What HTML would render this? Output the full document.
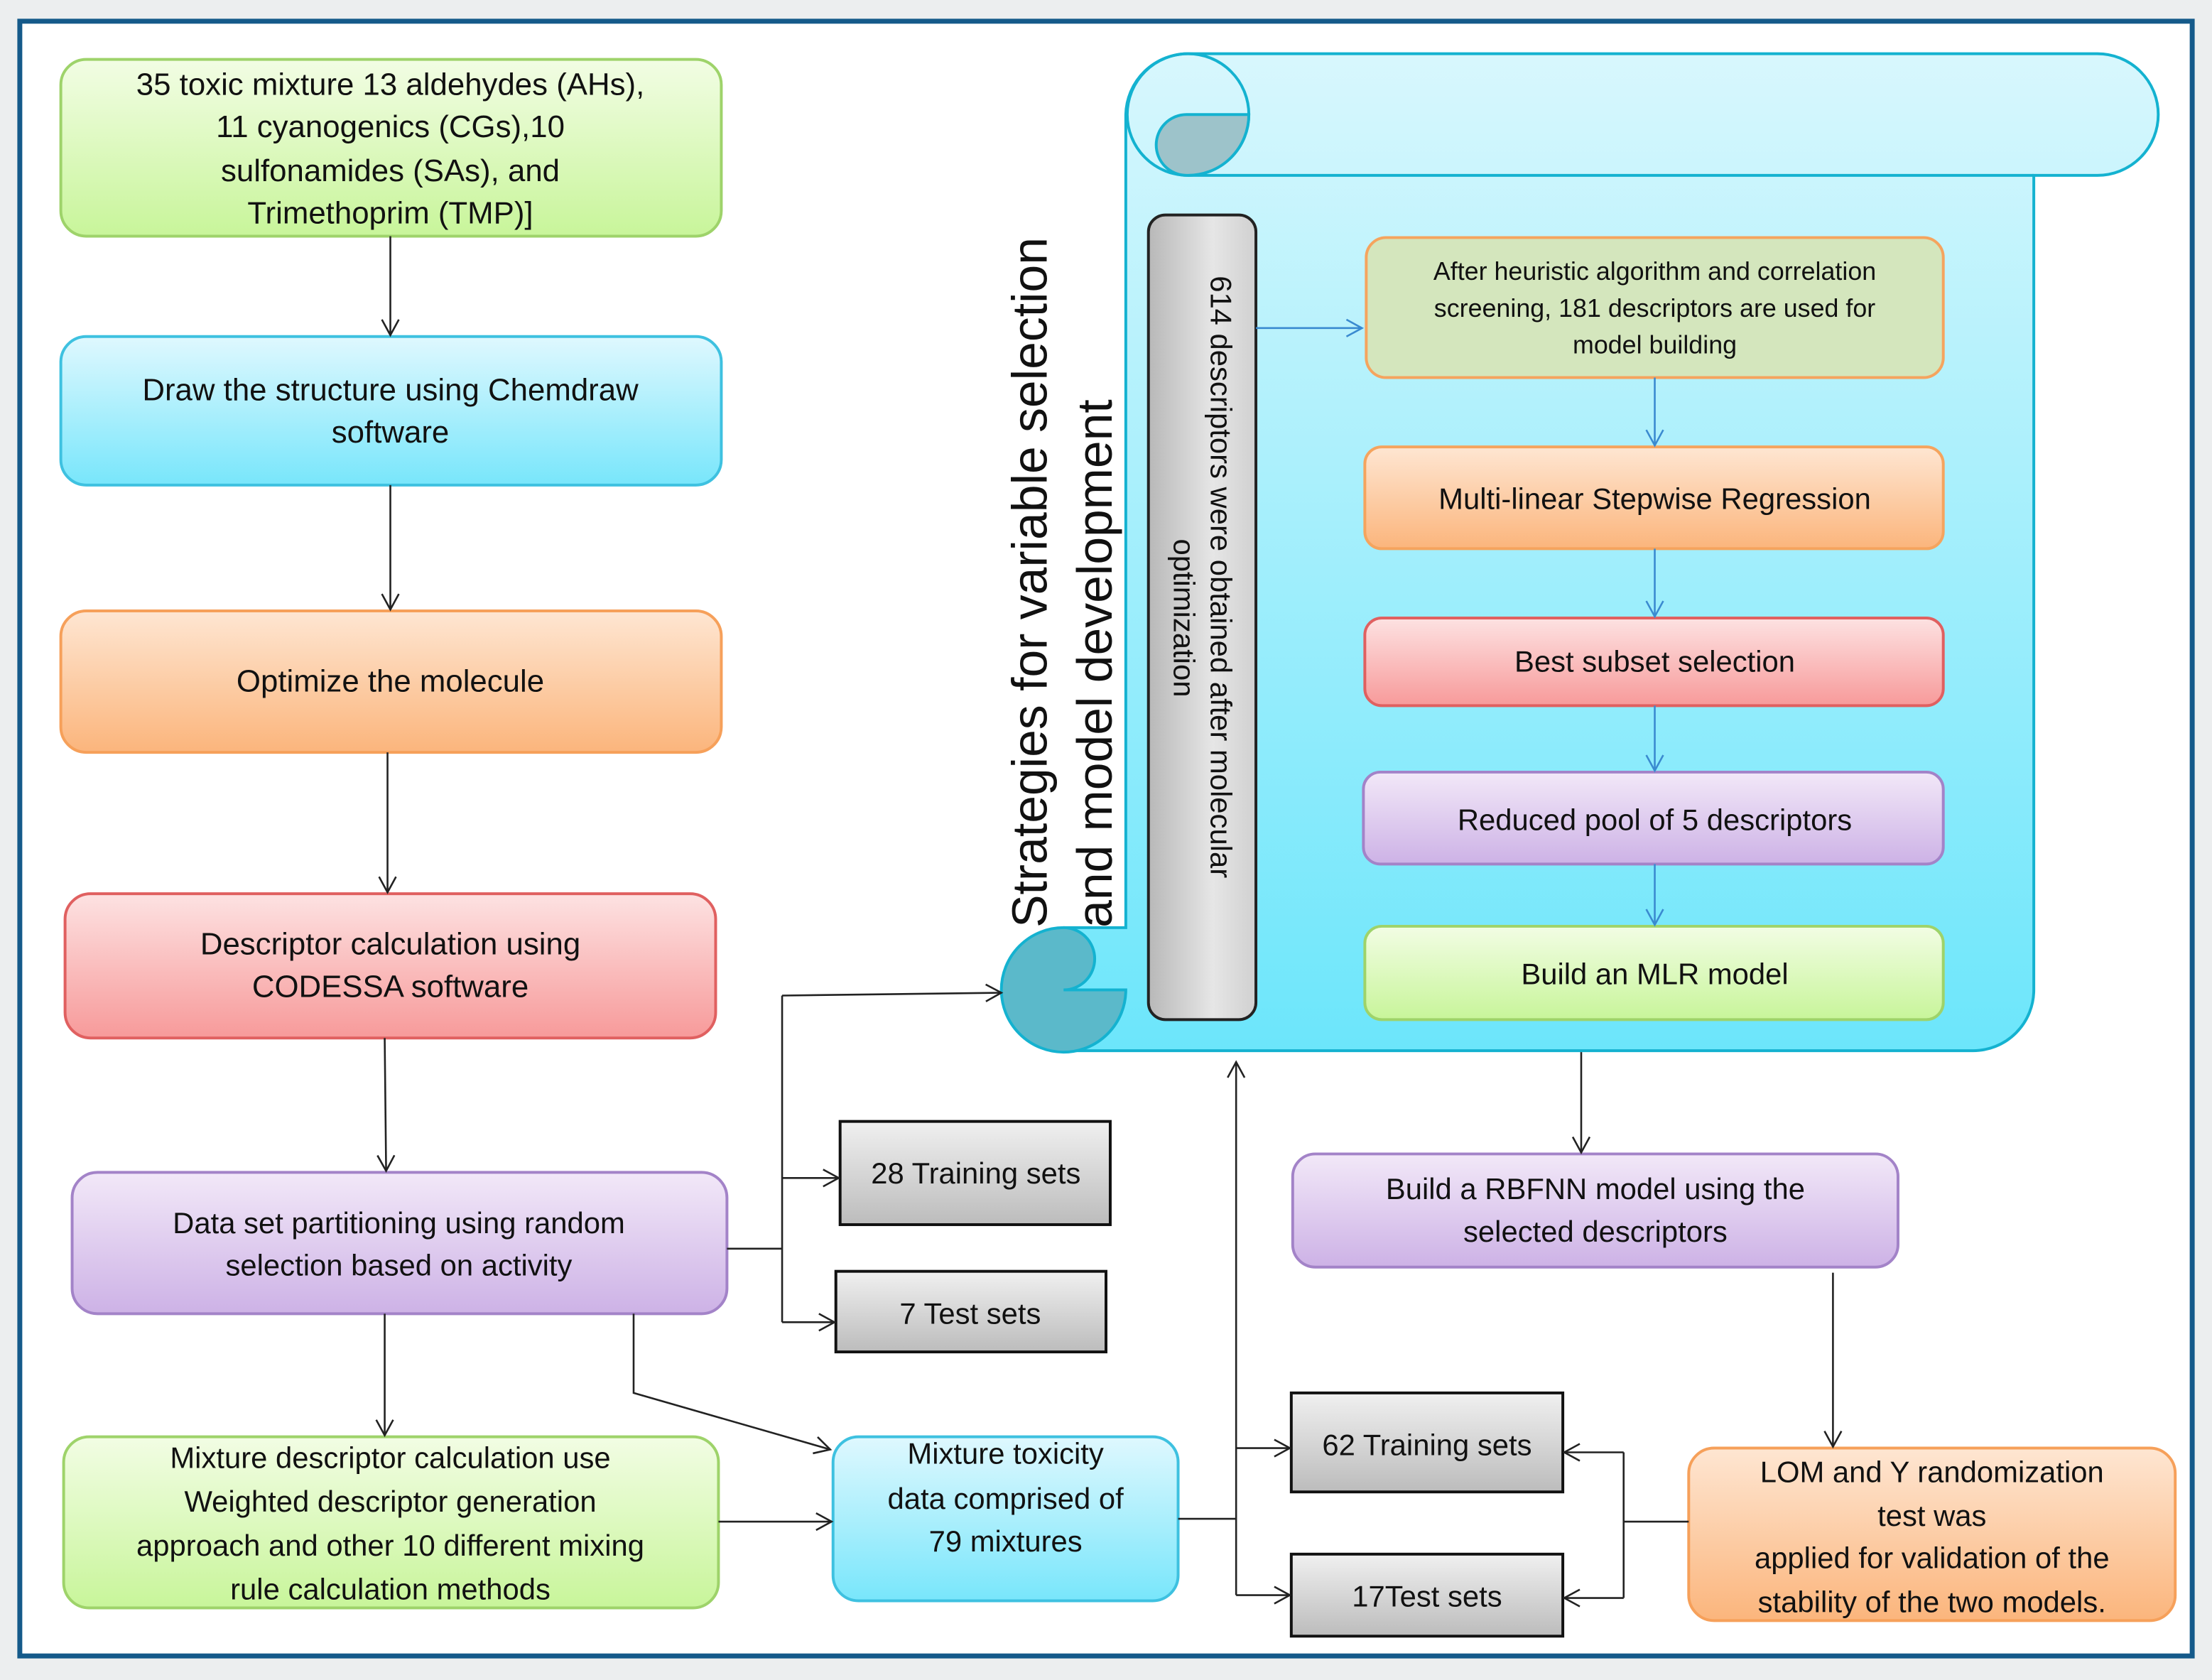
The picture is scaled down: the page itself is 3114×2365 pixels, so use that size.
<!DOCTYPE html>
<html><head><meta charset="utf-8"><style>
html,body{margin:0;padding:0;background:#fff}
svg{display:block}
text{font-family:"Liberation Sans",sans-serif;fill:#111}
</style></head><body>
<svg width="3114" height="2365" viewBox="0 0 1564 1188" preserveAspectRatio="none" xmlns="http://www.w3.org/2000/svg">
<defs>
<linearGradient id="gG" x1="0" y1="0" x2="0" y2="1"><stop offset="0" stop-color="#f2fde4"/><stop offset="1" stop-color="#c8f59a"/></linearGradient>
<linearGradient id="gB" x1="0" y1="0" x2="0" y2="1"><stop offset="0" stop-color="#dff8fe"/><stop offset="1" stop-color="#78e6fb"/></linearGradient>
<linearGradient id="gO" x1="0" y1="0" x2="0" y2="1"><stop offset="0" stop-color="#fee6d2"/><stop offset="1" stop-color="#fbb57c"/></linearGradient>
<linearGradient id="gR" x1="0" y1="0" x2="0" y2="1"><stop offset="0" stop-color="#fde2e2"/><stop offset="1" stop-color="#f79a9a"/></linearGradient>
<linearGradient id="gP" x1="0" y1="0" x2="0" y2="1"><stop offset="0" stop-color="#f2e8f8"/><stop offset="1" stop-color="#cdb2e6"/></linearGradient>
<linearGradient id="gY" x1="0" y1="0" x2="0" y2="1"><stop offset="0" stop-color="#f0f0f0"/><stop offset="1" stop-color="#bcbcbc"/></linearGradient>
<linearGradient id="gYh" x1="0" y1="0" x2="1" y2="0"><stop offset="0" stop-color="#b8b8b8"/><stop offset="0.6" stop-color="#e6e6e6"/><stop offset="1" stop-color="#d0d0d0"/></linearGradient>
<linearGradient id="gS" x1="0" y1="0" x2="0" y2="1"><stop offset="0" stop-color="#d8f7fd"/><stop offset="1" stop-color="#6ce6fb"/></linearGradient>
<marker id="a" markerWidth="14" markerHeight="14" refX="12" refY="7" orient="auto" markerUnits="userSpaceOnUse"><path d="M1,1 L12,7 L1,13" fill="none" stroke="#222" stroke-width="1.3"/></marker>
<marker id="ab" markerWidth="14" markerHeight="14" refX="12" refY="7" orient="auto" markerUnits="userSpaceOnUse"><path d="M1,1 L12,7 L1,13" fill="none" stroke="#3a8ad0" stroke-width="1.3"/></marker>
</defs>
<rect x="0" y="0" width="1564" height="1188" fill="#eceeef"/>
<rect x="14" y="15" width="1536" height="1156" fill="#fff" stroke="#155a8a" stroke-width="3.5"/>

<!-- scroll -->
<path d="M796,81 A44,44 0 0 1 840,38 L1483,38 A43,43 0 0 1 1483,124 L1438,124 L1438,700 A43,43 0 0 1 1395,743 L752,743 A44,44 0 0 1 752,656 L796,656 Z" fill="url(#gS)" stroke="#14b2d0" stroke-width="2"/>
<path d="M840,124 L1438,124" stroke="#14b2d0" stroke-width="2"/>
<circle cx="840" cy="81" r="43" fill="none" stroke="#14b2d0" stroke-width="2"/>
<path d="M839,81 L883,81 A43,43 0 0 1 839,124 A21.5,21.5 0 0 1 839,81 Z" fill="#9dc3ca" stroke="#14b2d0" stroke-width="2"/>
<path d="M752,656 A44,44 0 1 0 796,700 L752,700 A22,22 0 0 0 752,656 Z" fill="#5bb9ca" stroke="#14b2d0" stroke-width="2"/>

<!-- vertical title -->
<text transform="translate(740,656) rotate(-90)" font-size="35">Strategies for variable selection</text>
<text transform="translate(786,656) rotate(-90)" font-size="35">and model development</text>

<!-- gray bar -->
<rect x="812" y="152" width="76" height="569" rx="12" fill="url(#gYh)" stroke="#222" stroke-width="2"/>
<text transform="translate(856,195) rotate(90)" font-size="21">614 descriptors were obtained after molecular</text>
<text transform="translate(830,437) rotate(90)" font-size="21" text-anchor="middle">optimization</text>

<!-- inner boxes -->
<rect x="966" y="168" width="408" height="99" rx="14" fill="#d4e6bd" stroke="#f5a45e" stroke-width="2"/>
<text font-size="18" text-anchor="middle"><tspan x="1170" y="198">After heuristic algorithm and correlation</tspan><tspan x="1170" y="224">screening, 181 descriptors are used for</tspan><tspan x="1170" y="250">model building</tspan></text>
<rect x="965" y="316" width="409" height="72" rx="12" fill="url(#gO)" stroke="#f5a45e" stroke-width="2"/>
<text x="1170" y="360" font-size="21" text-anchor="middle">Multi-linear Stepwise Regression</text>
<rect x="965" y="437" width="409" height="62" rx="12" fill="url(#gR)" stroke="#e06060" stroke-width="2"/>
<text x="1170" y="475" font-size="21" text-anchor="middle">Best subset selection</text>
<rect x="964" y="546" width="410" height="65" rx="12" fill="url(#gP)" stroke="#a383c8" stroke-width="2"/>
<text x="1170" y="587" font-size="21" text-anchor="middle">Reduced pool of 5 descriptors</text>
<rect x="965" y="655" width="409" height="66" rx="12" fill="url(#gG)" stroke="#9ed36a" stroke-width="2"/>
<text x="1170" y="696" font-size="21" text-anchor="middle">Build an MLR model</text>

<g stroke="#3a8ad0" stroke-width="1.3" fill="none">
<path d="M888,232 L963,232" marker-end="url(#ab)"/>
<path d="M1170,267 L1170,315" marker-end="url(#ab)"/>
<path d="M1170,388 L1170,436" marker-end="url(#ab)"/>
<path d="M1170,499 L1170,545" marker-end="url(#ab)"/>
<path d="M1170,611 L1170,654" marker-end="url(#ab)"/>
</g>

<!-- left column -->
<rect x="43" y="42" width="467" height="125" rx="18" fill="url(#gG)" stroke="#9ed36a" stroke-width="2"/>
<text font-size="22" text-anchor="middle"><tspan x="276" y="67">35 toxic mixture 13 aldehydes (AHs),</tspan><tspan x="276" y="97">11 cyanogenics (CGs),10</tspan><tspan x="276" y="128">sulfonamides (SAs), and</tspan><tspan x="276" y="158">Trimethoprim (TMP)]</tspan></text>
<rect x="43" y="238" width="467" height="105" rx="18" fill="url(#gB)" stroke="#3ec1e0" stroke-width="2"/>
<text font-size="22" text-anchor="middle"><tspan x="276" y="283">Draw the structure using Chemdraw</tspan><tspan x="276" y="313">software</tspan></text>
<rect x="43" y="432" width="467" height="100" rx="18" fill="url(#gO)" stroke="#f6a05a" stroke-width="2"/>
<text x="276" y="489" font-size="22" text-anchor="middle">Optimize the molecule</text>
<rect x="46" y="632" width="460" height="102" rx="18" fill="url(#gR)" stroke="#e06060" stroke-width="2"/>
<text font-size="22" text-anchor="middle"><tspan x="276" y="675">Descriptor calculation using</tspan><tspan x="276" y="705">CODESSA software</tspan></text>
<rect x="51" y="829" width="463" height="100" rx="18" fill="url(#gP)" stroke="#a383c8" stroke-width="2"/>
<text font-size="21" text-anchor="middle"><tspan x="282" y="872">Data set partitioning using random</tspan><tspan x="282" y="902">selection based on activity</tspan></text>
<rect x="45" y="1016" width="463" height="121" rx="18" fill="url(#gG)" stroke="#9ed36a" stroke-width="2"/>
<text font-size="21" text-anchor="middle"><tspan x="276" y="1038">Mixture descriptor calculation use</tspan><tspan x="276" y="1069">Weighted descriptor generation</tspan><tspan x="276" y="1100">approach and other 10 different mixing</tspan><tspan x="276" y="1131">rule calculation methods</tspan></text>
<rect x="589" y="1016" width="244" height="116" rx="18" fill="url(#gB)" stroke="#3ec1e0" stroke-width="2"/>
<text font-size="21" text-anchor="middle"><tspan x="711" y="1035">Mixture toxicity</tspan><tspan x="711" y="1067">data comprised of</tspan><tspan x="711" y="1097">79 mixtures</tspan></text>

<!-- gray boxes -->
<rect x="594" y="793" width="191" height="73" fill="url(#gY)" stroke="#111" stroke-width="2"/>
<text x="690" y="837" font-size="21" text-anchor="middle">28 Training sets</text>
<rect x="591" y="899" width="191" height="57" fill="url(#gY)" stroke="#111" stroke-width="2"/>
<text x="686" y="936" font-size="21" text-anchor="middle">7 Test sets</text>
<rect x="913" y="985" width="192" height="70" fill="url(#gY)" stroke="#111" stroke-width="2"/>
<text x="1009" y="1029" font-size="21" text-anchor="middle">62 Training sets</text>
<rect x="913" y="1099" width="192" height="58" fill="url(#gY)" stroke="#111" stroke-width="2"/>
<text x="1009" y="1136" font-size="21" text-anchor="middle">17Test sets</text>

<rect x="914" y="816" width="428" height="80" rx="16" fill="url(#gP)" stroke="#a383c8" stroke-width="2"/>
<text font-size="21" text-anchor="middle"><tspan x="1128" y="848">Build a RBFNN model using the</tspan><tspan x="1128" y="878">selected descriptors</tspan></text>
<rect x="1194" y="1024" width="344" height="122" rx="18" fill="url(#gO)" stroke="#f6a05a" stroke-width="2"/>
<text font-size="21" text-anchor="middle"><tspan x="1366" y="1048">LOM and Y randomization</tspan><tspan x="1366" y="1079">test was</tspan><tspan x="1366" y="1109">applied for validation of the</tspan><tspan x="1366" y="1140">stability of the two models.</tspan></text>

<!-- connectors -->
<g stroke="#222" stroke-width="1.3" fill="none">
<path d="M276,167 L276,237" marker-end="url(#a)"/>
<path d="M276,343 L276,431" marker-end="url(#a)"/>
<path d="M274,532 L274,631" marker-end="url(#a)"/>
<path d="M272,734 L273,828" marker-end="url(#a)"/>
<path d="M272,929 L272,1015" marker-end="url(#a)"/>
<path d="M514,883 L553,883"/>
<path d="M553,704 L553,935"/>
<path d="M553,704 L708,702" marker-end="url(#a)"/>
<path d="M553,833 L593,833" marker-end="url(#a)"/>
<path d="M553,935 L590,935" marker-end="url(#a)"/>
<path d="M448,929 L448,985 L587,1025" marker-end="url(#a)"/>
<path d="M508,1076 L588,1076" marker-end="url(#a)"/>
<path d="M833,1074 L874,1074"/>
<path d="M874,1128 L874,751" marker-end="url(#a)"/>
<path d="M874,1024 L912,1024" marker-end="url(#a)"/>
<path d="M874,1128 L912,1128" marker-end="url(#a)"/>
<path d="M1118,744 L1118,815" marker-end="url(#a)"/>
<path d="M1296,900 L1296,1023" marker-end="url(#a)"/>
<path d="M1194,1076 L1148,1076"/>
<path d="M1148,1027 L1148,1130"/>
<path d="M1148,1027 L1106,1027" marker-end="url(#a)"/>
<path d="M1148,1130 L1106,1130" marker-end="url(#a)"/>
</g>
</svg>
</body></html>
